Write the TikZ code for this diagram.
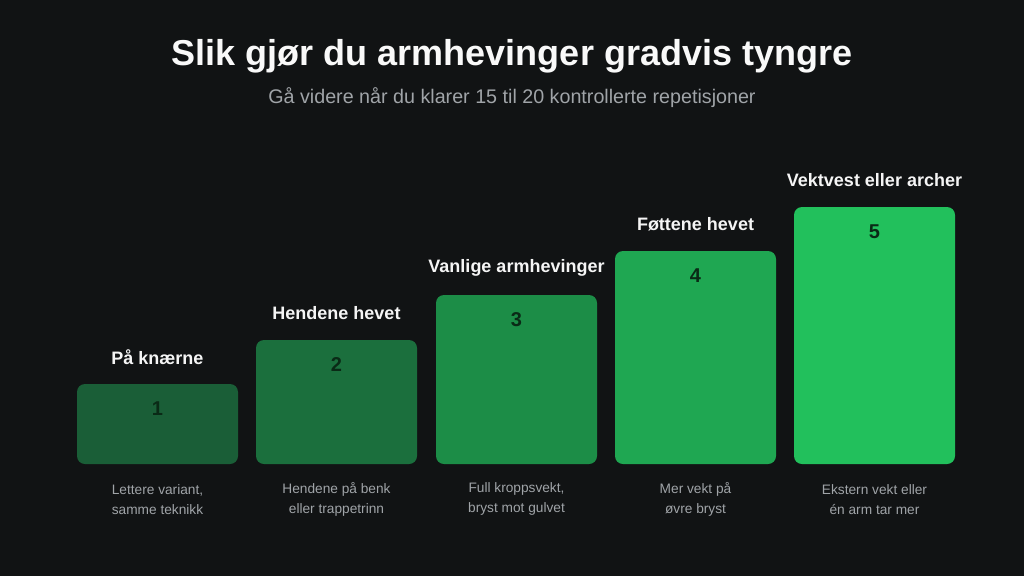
\documentclass[tikz,border=0pt]{standalone}
\usepackage{xcolor}
\usepackage{fontspec}
\setmainfont{Liberation Sans}
\usepackage{tikz}

\definecolor{bgdark}{HTML}{111314}
\definecolor{barone}{HTML}{1A5E37}
\definecolor{bartwo}{HTML}{1B6F3D}
\definecolor{barthree}{HTML}{1C8D47}
\definecolor{barfour}{HTML}{1FA752}
\definecolor{barfive}{HTML}{22C05C}
\definecolor{numtext}{HTML}{0A2A16}
\definecolor{desctext}{HTML}{A0A4A8}

\begin{document}
\begin{tikzpicture}[x=1pt,y=-1pt,
	bar/.style={rounded corners=8pt, minimum width=161pt, inner sep=0pt},
	num/.style={font=\fontsize{20}{22}\selectfont\bfseries, text=numtext},
	steplabel/.style={font=\fontsize{18}{20}\selectfont\bfseries, text=white!92!gray},
	desc/.style={font=\fontsize{13.7}{20}\selectfont, text=desctext, align=center}]
	\fill[bgdark] (0,0) rectangle (1024,576);
	\useasboundingbox (0,0) rectangle (1024,576);
	
	\node[font=\fontsize{36}{40}\selectfont\bfseries, text=white!95!gray] (title) at (512,56) {Slik gjør du armhevinger gradvis tyngre};
	\node[font=\fontsize{19.7}{22}\selectfont, text=desctext] (subtitle) at (512,98) {Gå videre når du klarer 15 til 20 kontrollerte repetisjoner};
	
	\node[bar, fill=barone, minimum height=80pt] (b1) at (157.5,424) {};
	\node[bar, fill=bartwo, minimum height=124pt] (b2) at (336.5,402) {};
	\node[bar, fill=barthree, minimum height=169pt] (b3) at (516.5,379.5) {};
	\node[bar, fill=barfour, minimum height=213pt] (b4) at (695.5,357.5) {};
	\node[bar, fill=barfive, minimum height=257pt] (b5) at (874.5,335.5) {};
	
	\node[num] (n1) at ([yshift=-25pt]b1.north) {1};
	\node[num] (n2) at ([yshift=-25pt]b2.north) {2};
	\node[num] (n3) at ([yshift=-25pt]b3.north) {3};
	\node[num] (n4) at ([yshift=-25pt]b4.north) {4};
	\node[num] (n5) at ([yshift=-25pt]b5.north) {5};
	
	\node[steplabel] (l1) at ([yshift=27pt]b1.north) {På knærne};
	\node[steplabel] (l2) at ([yshift=27pt]b2.north) {Hendene hevet};
	\node[steplabel] (l3) at ([yshift=27pt]b3.north) {Vanlige armhevinger};
	\node[steplabel] (l4) at ([yshift=27pt]b4.north) {Føttene hevet};
	\node[steplabel] (l5) at ([yshift=27pt]b5.north) {Vektvest eller archer};
	
	\node[desc] (d1) at ([yshift=-35pt]b1.south) {Lettere variant,\\samme teknikk};
	\node[desc] (d2) at ([yshift=-35pt]b2.south) {Hendene på benk\\eller trappetrinn};
	\node[desc] (d3) at ([yshift=-35pt]b3.south) {Full kroppsvekt,\\bryst mot gulvet};
	\node[desc] (d4) at ([yshift=-35pt]b4.south) {Mer vekt på\\øvre bryst};
	\node[desc] (d5) at ([yshift=-35pt]b5.south) {Ekstern vekt eller\\én arm tar mer};
	
\end{tikzpicture}
\end{document}
